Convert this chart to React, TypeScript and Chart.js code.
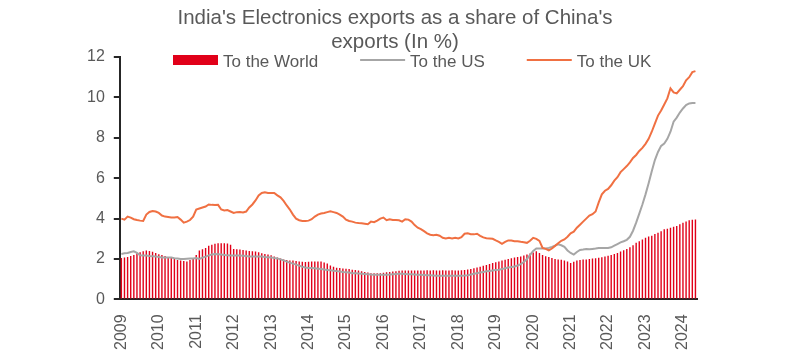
import { useEffect, useRef } from 'react';
import { Chart, registerables } from 'chart.js';

Chart.register(...registerables);

const TITLE_LINES = ["India's Electronics exports as a share of China's", 'exports (In %)'];
const YEARS = ['2009', '2010', '2011', '2012', '2013', '2014', '2015', '2016', '2017', '2018', '2019', '2020', '2021', '2022', '2023', '2024'];
const MONTHS_IN_LAST_YEAR = 5;
const CATEGORIES: string[] = [];
YEARS.forEach((y, i) => {
  const n = i === YEARS.length - 1 ? MONTHS_IN_LAST_YEAR : 12;
  for (let m = 1; m <= n; m++) CATEGORIES.push(`${y}-${String(m).padStart(2, '0')}`);
});

const SERIES_LABELS = ['To the World', 'To the US', 'To the UK'];

const WORLD = [
  2.05, 2.07, 2.1, 2.15, 2.2, 2.28, 2.33, 2.38, 2.42, 2.4, 2.36, 2.3,
  2.24, 2.2, 2.15, 2.1, 2.05, 2.0, 1.95, 1.92, 1.9, 1.88, 1.95, 2.05,
  2.2, 2.42, 2.48, 2.55, 2.65, 2.7, 2.75, 2.78, 2.78, 2.78, 2.77, 2.7,
  2.5, 2.48, 2.47, 2.45, 2.42, 2.4, 2.38, 2.37, 2.33, 2.28, 2.25, 2.22,
  2.18, 2.12, 2.07, 2.02, 1.98, 1.95, 1.93, 1.92, 1.9, 1.88, 1.87, 1.85,
  1.86, 1.88, 1.88, 1.88, 1.88, 1.83, 1.78, 1.68, 1.62, 1.57, 1.55, 1.53,
  1.52, 1.5, 1.47, 1.45, 1.43, 1.4, 1.36, 1.33, 1.3, 1.3, 1.3, 1.3,
  1.32, 1.34, 1.36, 1.38, 1.4, 1.42, 1.43, 1.43, 1.43, 1.43, 1.43, 1.43,
  1.43, 1.43, 1.44, 1.43, 1.44, 1.43, 1.43, 1.44, 1.43, 1.43, 1.44, 1.43,
  1.43, 1.44, 1.46, 1.48, 1.51, 1.54, 1.58, 1.62, 1.66, 1.7, 1.75, 1.8,
  1.84, 1.88, 1.92, 1.96, 2.0, 2.04, 2.07, 2.1, 2.13, 2.17, 2.22, 2.27,
  2.32, 2.38, 2.3, 2.2, 2.14, 2.1, 2.05, 2.0, 1.98, 1.96, 1.93, 1.88,
  1.8, 1.86, 1.92, 1.95, 1.97, 1.98, 2.0, 2.02, 2.04, 2.06, 2.09, 2.12,
  2.16, 2.2, 2.25, 2.3, 2.37, 2.43, 2.5, 2.58, 2.68, 2.8, 2.88, 2.96,
  3.05, 3.12, 3.15, 3.24, 3.3, 3.38, 3.47, 3.5, 3.55, 3.6, 3.63, 3.72,
  3.8, 3.86, 3.92, 3.94, 3.95,
];

const US = [
  2.25, 2.28, 2.3, 2.35, 2.38, 2.3, 2.18, 2.17, 2.17, 2.15, 2.14, 2.13,
  2.1, 2.08, 2.08, 2.08, 2.07, 2.04, 2.02, 2.0, 2.0, 2.01, 2.02, 2.03,
  2.05, 2.0, 2.07, 2.12, 2.18, 2.22, 2.25, 2.24, 2.22, 2.2, 2.18, 2.17,
  2.17, 2.17, 2.17, 2.16, 2.15, 2.13, 2.13, 2.13, 2.13, 2.12, 2.1, 2.09,
  2.08, 2.05, 2.03, 1.98, 1.93, 1.87, 1.82, 1.77, 1.72, 1.67, 1.62, 1.58,
  1.56, 1.55, 1.54, 1.52, 1.5, 1.48, 1.46, 1.44, 1.42, 1.4, 1.38, 1.36,
  1.35, 1.33, 1.3, 1.29, 1.28, 1.27, 1.26, 1.25, 1.23, 1.22, 1.22, 1.22,
  1.22, 1.22, 1.23, 1.25, 1.26, 1.27, 1.27, 1.26, 1.25, 1.24, 1.23, 1.22,
  1.22, 1.21, 1.2, 1.19, 1.18, 1.17, 1.17, 1.17, 1.17, 1.17, 1.17, 1.17,
  1.17, 1.17, 1.18, 1.2, 1.23, 1.27, 1.3, 1.33, 1.36, 1.39, 1.41, 1.43,
  1.45, 1.47, 1.5, 1.54, 1.58, 1.6, 1.63, 1.68, 1.75, 1.85, 2.0, 2.2,
  2.4, 2.52, 2.52, 2.52, 2.52, 2.55, 2.6, 2.66, 2.73, 2.68, 2.6, 2.42,
  2.3, 2.22, 2.35, 2.45, 2.47, 2.5, 2.48, 2.5, 2.52, 2.55, 2.55, 2.55,
  2.55, 2.58, 2.66, 2.74, 2.82, 2.88, 2.95, 3.1, 3.4, 3.8, 4.25, 4.7,
  5.2, 5.75, 6.35, 6.9, 7.3, 7.6, 7.72, 7.95, 8.3, 8.8, 9.0, 9.25,
  9.45, 9.62, 9.7, 9.72, 9.72,
];

const UK = [
  4.0, 3.95, 4.1, 4.05, 3.97, 3.93, 3.9, 3.88, 4.2, 4.33, 4.38, 4.35,
  4.28, 4.15, 4.1, 4.08, 4.05, 4.05, 4.08, 3.95, 3.8, 3.85, 3.93, 4.1,
  4.45, 4.5, 4.55, 4.6, 4.7, 4.68, 4.67, 4.68, 4.45, 4.4, 4.42, 4.35,
  4.28, 4.32, 4.33, 4.3, 4.35, 4.55, 4.7, 4.9, 5.15, 5.27, 5.3, 5.27,
  5.27, 5.27, 5.15, 5.05, 4.88, 4.65, 4.45, 4.2, 4.0, 3.92, 3.88, 3.88,
  3.9, 3.97, 4.1, 4.2, 4.25, 4.28, 4.32, 4.36, 4.32, 4.28, 4.2, 4.1,
  3.95, 3.88, 3.85, 3.8, 3.78, 3.77, 3.75, 3.72, 3.85, 3.82, 3.9, 4.0,
  4.05, 3.92, 3.97, 3.93, 3.93, 3.92, 3.85, 3.97, 3.95, 3.85, 3.68, 3.55,
  3.48, 3.38, 3.27, 3.2, 3.18, 3.2, 3.15, 3.05, 3.02, 3.05, 3.02, 3.05,
  3.02, 3.08, 3.25, 3.27, 3.23, 3.22, 3.25, 3.15, 3.07, 3.03, 3.02, 3.0,
  2.92, 2.85, 2.75, 2.85, 2.92, 2.92, 2.88, 2.88, 2.85, 2.83, 2.8, 2.9,
  3.05, 3.0, 2.9, 2.55, 2.5, 2.43, 2.52, 2.65, 2.78, 2.9, 2.97, 3.1,
  3.27, 3.35, 3.55, 3.7, 3.85, 4.0, 4.15, 4.22, 4.35, 4.8, 5.2, 5.38,
  5.47, 5.65, 5.88, 6.05, 6.3, 6.45, 6.6, 6.78, 7.0, 7.15, 7.35, 7.5,
  7.7, 7.95, 8.3, 8.7, 9.1, 9.35, 9.65, 9.95, 10.45, 10.25, 10.2, 10.38,
  10.55, 10.85, 11.0, 11.25, 11.3,
];

const Y_MIN = 0;
const Y_MAX = 12;
const Y_STEP = 2;

const FONT = '"Liberation Sans", Arial, Helvetica, sans-serif';
const TEXT_COLOR = '#595959';
const AXIS_COLOR = '#262626';
const WORLD_COLOR = '#e10019';
const US_COLOR = '#a6a6a6';
const UK_COLOR = '#f07042';

const titlePlugin = {
  id: 'twoLineTitle',
  afterDraw(chart: any) {
    const { ctx } = chart;
    ctx.save();
    ctx.font = `20.5px ${FONT}`;
    ctx.fillStyle = TEXT_COLOR;
    ctx.textAlign = 'center';
    ctx.textBaseline = 'alphabetic';
    TITLE_LINES.forEach((line, i) => ctx.fillText(line, 395, 24 + i * 24));
    ctx.restore();
  },
};

const legendPlugin = {
  id: 'insideLegend',
  afterDraw(chart: any) {
    const { ctx } = chart;
    ctx.save();
    ctx.font = `17px ${FONT}`;
    ctx.textAlign = 'left';
    ctx.textBaseline = 'alphabetic';
    const cy = 60;
    const sw = 45;
    let x = 173;
    chart.data.datasets.forEach((ds: any) => {
      if (ds.type === 'bar') {
        ctx.fillStyle = ds.backgroundColor;
        ctx.fillRect(x, cy - 5, sw, 10);
      } else {
        ctx.strokeStyle = ds.borderColor;
        ctx.lineWidth = 2;
        ctx.beginPath();
        ctx.moveTo(x, cy);
        ctx.lineTo(x + sw, cy);
        ctx.stroke();
      }
      x += sw + 5;
      ctx.fillStyle = TEXT_COLOR;
      ctx.fillText(ds.label, x, 66.5);
      x += ctx.measureText(ds.label).width + 42;
    });
    ctx.restore();
  },
};

export default function App() {
  const ref = useRef<HTMLCanvasElement>(null);

  useEffect(() => {
    if (!ref.current) return;
    const chart = new Chart(ref.current, {
      type: 'bar',
      data: {
        labels: CATEGORIES,
        datasets: [
          {
            type: 'bar',
            label: SERIES_LABELS[0],
            data: WORLD,
            backgroundColor: WORLD_COLOR,
            barPercentage: 0.45,
            categoryPercentage: 1,
            order: 3,
          },
          {
            type: 'line',
            label: SERIES_LABELS[1],
            data: US,
            borderColor: US_COLOR,
            backgroundColor: US_COLOR,
            borderWidth: 2,
            pointRadius: 0,
            tension: 0,
            order: 2,
          },
          {
            type: 'line',
            label: SERIES_LABELS[2],
            data: UK,
            borderColor: UK_COLOR,
            backgroundColor: UK_COLOR,
            borderWidth: 2,
            pointRadius: 0,
            tension: 0,
            order: 1,
          },
        ] as any,
      },
      options: {
        animation: false,
        responsive: true,
        maintainAspectRatio: false,
        layout: { padding: { top: 57, left: 78, right: 109, bottom: -3 } },
        plugins: {
          legend: { display: false },
          title: { display: false },
          tooltip: { enabled: false },
        },
        scales: {
          x: {
            offset: true,
            grid: { display: false, drawTicks: false },
            border: { display: true, color: AXIS_COLOR, width: 2 },
            ticks: {
              autoSkip: false,
              maxRotation: 90,
              minRotation: 90,
              padding: 15,
              color: TEXT_COLOR,
              font: { family: FONT, size: 16 },
              callback: (_v: any, i: number) =>
                CATEGORIES[i].endsWith('-01') ? CATEGORIES[i].slice(0, 4) : '',
            },
          },
          y: {
            min: Y_MIN,
            max: Y_MAX,
            ticks: {
              stepSize: Y_STEP,
              padding: 9,
              color: TEXT_COLOR,
              font: { family: FONT, size: 16 },
            },
            grid: {
              display: true,
              drawOnChartArea: false,
              drawTicks: true,
              tickLength: 6,
              color: AXIS_COLOR,
              lineWidth: 2,
            },
            border: { display: true, color: AXIS_COLOR, width: 2 },
          },
        },
      },
      plugins: [titlePlugin, legendPlugin],
    });
    return () => chart.destroy();
  }, []);

  return (
    <div style={{ position: 'absolute', left: 0, top: 0, width: 806, height: 362 }}>
      <canvas ref={ref} />
    </div>
  );
}
